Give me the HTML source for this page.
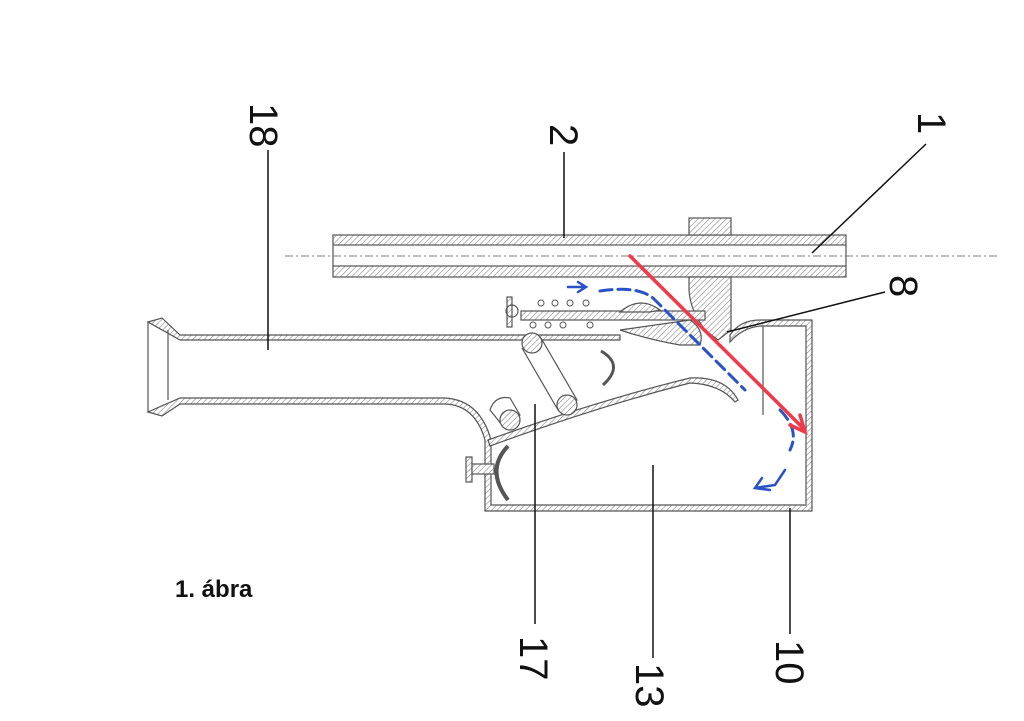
<!DOCTYPE html>
<html><head><meta charset="utf-8"><style>
html,body{margin:0;padding:0;background:#fff;}
svg{display:block;}
text{font-family:"Liberation Sans",sans-serif;}
</style></head><body>
<svg width="1024" height="721" viewBox="0 0 1024 721" xmlns="http://www.w3.org/2000/svg">
<defs>
<pattern id="h" width="4" height="4" patternUnits="userSpaceOnUse" patternTransform="rotate(45)">
<rect width="4" height="4" fill="#fff"/><line x1="0" y1="0" x2="0" y2="4" stroke="#888" stroke-width="1.2"/>
</pattern>
</defs>
<rect width="1024" height="721" fill="#fff"/>
<g stroke="#555" stroke-width="1.2" fill="none">
<rect x="333" y="235" width="513" height="10" fill="url(#h)"/>
<rect x="333" y="266" width="513" height="11" fill="url(#h)"/>
<line x1="333" y1="245" x2="333" y2="266"/>
<line x1="846" y1="245" x2="846" y2="266"/>
<line x1="285" y1="256" x2="1000" y2="256" stroke-dasharray="8,3,2,3" stroke-width="0.8"/>
<rect x="689" y="218" width="42" height="17" fill="url(#h)"/>
<path d="M689 277 L731 277 L731 330 L718 340 L705 330 Q690 310 689 290 Z" fill="url(#h)"/>
<rect x="521" y="311" width="184" height="9" fill="url(#h)"/>
<rect x="507" y="297" width="5" height="30" fill="url(#h)"/>
<circle cx="512" cy="311" r="6"/>
<g stroke-width="1">
<circle cx="541" cy="303" r="3"/><circle cx="555" cy="303" r="3"/><circle cx="570" cy="303" r="3"/><circle cx="586" cy="303" r="3"/>
<circle cx="533" cy="325" r="3"/><circle cx="548" cy="325" r="3"/><circle cx="563" cy="325" r="3"/><circle cx="590" cy="325" r="3"/>
</g>
<path d="M620 312 Q640 295 660 310 L650 312 Z" fill="url(#h)"/>
<path d="M620 330 L690 320 Q705 330 700 345 L680 345 Q650 340 620 330 Z" fill="url(#h)"/>
<path d="M148 322 L162 318 L180 335 L620 335 L620 340 L180 340 Z" fill="url(#h)"/>
<line x1="168" y1="330" x2="168" y2="400"/>
<path d="M148 412 L162 416 L180 404 L445 404 Q475 405 485 440 L485 511 L812 511 L812 320 L760 320 Q740 320 730 335 L730 342 Q742 328 760 326 L806 326 L806 505 L491 505 L491 440 Q480 400 445 398 L180 398 Z" fill="url(#h)"/>
<line x1="148" y1="322" x2="148" y2="412"/>
<line x1="763" y1="326" x2="763" y2="415"/>
<path d="M488 440 Q600 400 690 378 Q725 376 738 400 L735 402 Q720 384 690 383 Q600 406 490 446 Z" fill="url(#h)"/>
<path d="M522 348 L558 410 L577 400 L541 338" />
<circle cx="532" cy="343" r="10" fill="url(#h)"/>
<circle cx="567" cy="405" r="10" fill="url(#h)"/>
<path d="M490 410 Q495 395 510 398 L520 415 L502 425 Z"/>
<circle cx="510" cy="420" r="10" fill="url(#h)"/>
<path d="M601 351 Q625 365 603 385" stroke-width="3"/>
<path d="M508 446 Q485 470 508 500" stroke-width="4"/>
<rect x="466" y="457" width="6" height="25" fill="url(#h)"/>
<rect x="472" y="464" width="22" height="10" fill="url(#h)"/>
</g>
<g fill="none" stroke-linecap="round">
<path d="M568 287 L585 287 M578 282 L586 287 L578 292" stroke="#2a52c8" stroke-width="2.5"/>
<path d="M600 291 Q640 285 655 300 L745 390 M780 410 Q800 430 790 450" stroke="#2a52c8" stroke-width="3" stroke-dasharray="12,6"/>
<path d="M785 470 L775 485 L755 488 M762 478 L755 488 L770 490" stroke="#2a52c8" stroke-width="2.5"/>
<line x1="630" y1="256" x2="805" y2="430" stroke="#ee3a4a" stroke-width="3.5"/>
<path d="M790 425 L805 432 L800 415" stroke="#ee3a4a" stroke-width="3.5"/>
</g>
<g stroke="#111" stroke-width="1.5">
<line x1="268" y1="150" x2="268" y2="350"/>
<line x1="564" y1="152" x2="564" y2="238"/>
<line x1="926" y1="144" x2="812" y2="253"/>
<line x1="885" y1="292" x2="727" y2="332"/>
<line x1="535" y1="404" x2="535" y2="624"/>
<line x1="653" y1="465" x2="653" y2="658"/>
<line x1="790" y1="508" x2="790" y2="634"/>
</g>
<g font-size="40" fill="#111">
<text transform="translate(250,103) rotate(90)">18</text>
<text transform="translate(550,124) rotate(90)">2</text>
<text transform="translate(918,112) rotate(90)">1</text>
<text transform="translate(890,275) rotate(90)">8</text>
<text transform="translate(520,636) rotate(90)">17</text>
<text transform="translate(636,663) rotate(90)">13</text>
<text transform="translate(776,640) rotate(90)">10</text>
</g>
<text x="175" y="597" font-size="24" font-weight="bold" fill="#111">1. ábra</text>
</svg>
</body></html>
